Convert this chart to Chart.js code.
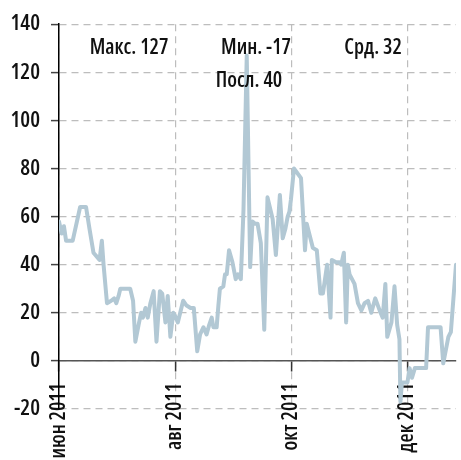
<!DOCTYPE html>
<html>
<head>
<meta charset="utf-8">
<script src="https://cdn.jsdelivr.net/npm/chart.js@4/dist/chart.umd.min.js"></script>
<style>
  html, body { margin: 0; padding: 0; background: #ffffff; }
  #wrap { width: 461px; height: 460px; position: relative; }
</style>
</head>
<body>
<div id="wrap"><canvas id="c"></canvas></div>
<script>
// Days counted from 1 June 2011
const days = [
  0, 1.4, 2.6, 3.7, 5.4, 7.2, 11.1, 12.7, 14.2, 16.0,
  18.1, 21.3, 22.5, 23.4, 25.2, 27.4, 29.0, 30.1, 31.3, 32.2,
  33.9, 35.6, 37.4, 38.9, 40.1, 41.8, 43.1, 44.1, 45.4, 46.6,
  48.0, 49.7, 51.2, 53.0, 54.2, 55.9, 57.1, 58.5, 60.0, 60.8,
  62.4, 65.2, 67.0, 69.1, 70.8, 72.6, 74.1, 75.9, 77.5, 78.9,
  80.2, 81.1, 82.8, 83.7, 84.5, 86.3, 87.2, 88.1, 89.3, 91.1,
  92.8, 94.0, 95.5, 96.9, 98.6, 100.4, 101.6, 103.0, 104.3, 106.0,
  107.8, 109.5, 112.2, 113.9, 116.0, 117.5, 118.9, 120.1, 121.0, 121.8,
  123.4, 127.1, 129.2, 130.1, 133.3, 135.4, 137.3, 138.6, 140.8, 142.6,
  143.3, 145.5, 147.3, 148.2, 149.6, 150.8, 151.7, 152.6, 155.2, 157.0,
  158.8, 160.5, 162.3, 164.0, 166.1, 168.4, 170.0, 171.4, 172.4, 174.6,
  176.2, 177.6, 178.8, 179.3, 180.1, 183.0, 184.1, 185.4, 186.9, 192.8,
  193.8, 200.4, 201.8, 204.5, 205.8, 208.5
];
const values = [
  58, 53, 56, 50, 50, 50, 64, 64, 64, 55,
  45, 42, 50, 40, 24, 25, 26, 24, 27, 30,
  30, 30, 30, 25, 8, 15, 20, 18, 22, 18,
  24, 29, 8, 29, 28, 16, 27, 10, 20, 19,
  16, 25, 23, 22, 22, 4, 11, 14, 11, 15,
  18, 14, 14, 23, 30, 31, 36, 36, 46, 41,
  34, 36, 34, 63, 127, 39, 58, 57, 57, 49,
  13, 68, 59, 44, 69, 51, 55, 60, 62, 67,
  80, 76, 46, 57, 47, 46, 28, 28, 40, 18,
  42, 41, 41, 40, 45, 16, 40, 36, 32, 24,
  21, 24, 25, 20, 26, 21, 18, 32, 10, 16,
  31, 15, 9, -17, -9, -9, -3, -7, -3, -3,
  14, 14, -1, 10, 12, 40
];
const tickDays = [0, 61, 122, 183];
const tickLabels = ['июн 2011', 'авг 2011', 'окт 2011', 'дек 2011'];
const yTicks = [-20, 0, 20, 40, 60, 80, 100, 120, 140];

const FONT = '"Open Sans", sans-serif';
const WEIGHT = '600 condensed';   // weight + width for the narrow face
const LINE_COLOR = '#b2c8d4';

// Summary figures shown across the top of the plot
const vMax = Math.max(...values);
const vMin = Math.min(...values);
const vAvg = Math.round(values.reduce((a, b) => a + b, 0) / values.length);
const vLast = values[values.length - 1];

const statsPlugin = {
  id: 'stats',
  afterDraw(chart) {
    const { ctx } = chart;
    ctx.save();
    ctx.fillStyle = '#111';
    ctx.font = WEIGHT + ' 21px ' + FONT;
    ctx.textAlign = 'center';
    ctx.textBaseline = 'alphabetic';
    ctx.fillText('Макс. ' + vMax, 129, 54);
    ctx.fillText('Мин. ' + vMin, 256, 54);
    ctx.fillText('Срд. ' + vAvg, 373, 54);
    ctx.fillText('Посл. ' + vLast, 249, 87);
    ctx.restore();
  }
};

new Chart(document.getElementById('c'), {
  type: 'line',
  data: {
    datasets: [{
      data: days.map((d, i) => ({ x: d, y: values[i] })),
      borderColor: LINE_COLOR,
      borderWidth: 4,
      pointRadius: 0,
      tension: 0,
      borderJoinStyle: 'round',
      borderCapStyle: 'round',
      fill: false
    }]
  },
  options: {
    responsive: true,
    maintainAspectRatio: false,
    animation: false,
    layout: { padding: { left: 0, top: 20, right: 5, bottom: 51 } },
    plugins: { legend: { display: false }, tooltip: { enabled: false } },
    scales: {
      x: {
        type: 'linear',
        position: { y: 0 },
        min: 0,
        max: days[days.length - 1],
        afterFit(scale) { scale.height = 0; },
        afterBuildTicks(scale) { scale.ticks = tickDays.map(v => ({ value: v })); },
        ticks: {
          autoSkip: false,
          minRotation: 90,
          maxRotation: 90,
          padding: 12,
          color: '#111',
          font: { family: FONT, size: 21, weight: WEIGHT },
          callback: (v) => tickLabels[tickDays.indexOf(v)]
        },
        grid: {
          color: '#bdbdbd',
          lineWidth: 1.2,
          tickLength: 10,
          tickColor: '#333',
          tickWidth: 1.5,
          tickBorderDash: []
        },
        border: { display: true, color: '#555', width: 1.5, dash: [7, 5] }
      },
      y: {
        min: -20,
        max: 140,
        afterFit(scale) { scale.width = 59; },
        afterBuildTicks(scale) { scale.ticks = yTicks.map(v => ({ value: v })); },
        ticks: {
          padding: 11,
          color: '#111',
          font: { family: FONT, size: 22, weight: WEIGHT }
        },
        grid: {
          color: '#bdbdbd',
          lineWidth: 1.2,
          tickLength: 8,
          tickColor: '#444',
          tickWidth: 1.5,
          tickBorderDash: []
        },
        border: { display: true, color: '#000', width: 1.5, dash: [7, 5] }
      }
    }
  },
  plugins: [statsPlugin]
});
</script>
</body>
</html>
